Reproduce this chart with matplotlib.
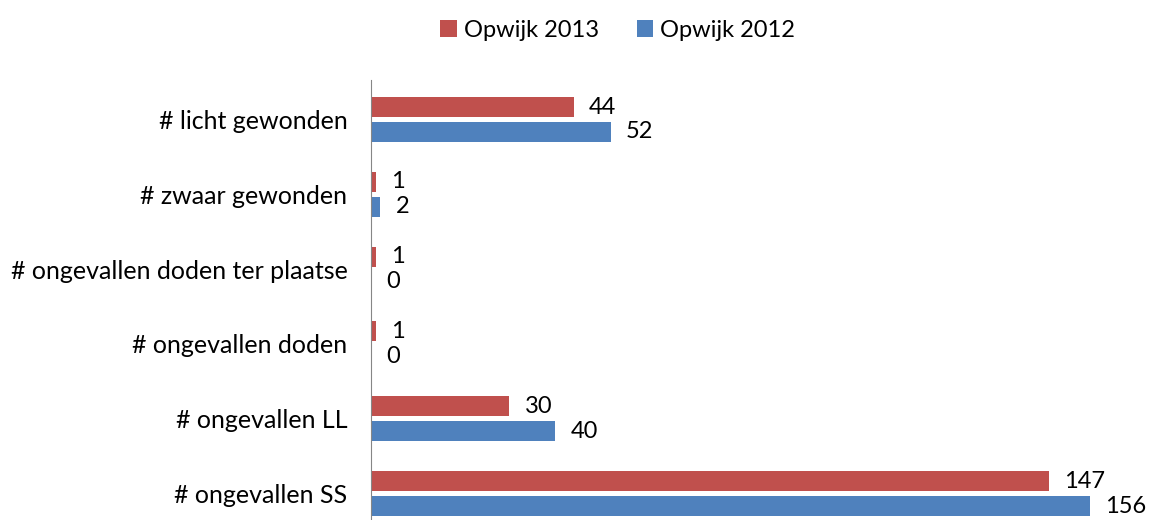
import matplotlib.pyplot as plt
import numpy as np

categories = ['# licht gewonden', '# zwaar gewonden', '# ongevallen doden ter plaatse',
              '# ongevallen doden', '# ongevallen LL', '# ongevallen SS']
opwijk_2013 = [44, 1, 1, 1, 30, 147]
opwijk_2012 = [52, 2, 0, 0, 40, 156]

plt.rcParams['font.family'] = ['Lato', 'DejaVu Sans']

fig = plt.figure(figsize=(11.51, 5.20), dpi=100)
ax = fig.add_axes([371 / 1151, 0, 780 / 1151, 440 / 520])

y = np.arange(len(categories))[::-1]
h = 0.267
b13 = ax.barh(y + 0.167, opwijk_2013, height=h, color='#C0504D', label='Opwijk 2013')
b12 = ax.barh(y - 0.167, opwijk_2012, height=h, color='#4F81BD', label='Opwijk 2012')
ax.bar_label(b13, padding=11, fontsize=17)
ax.bar_label(b12, padding=11, fontsize=17)

ax.set_xlim(0, 169.2)
ax.set_ylim(-0.354, 5.528)
ax.set_yticks(y)
ax.set_yticklabels(categories, fontsize=18)
ax.tick_params(axis='y', length=0, pad=17)
ax.set_xticks([])
for s in ['top', 'right', 'bottom']:
    ax.spines[s].set_visible(False)
ax.spines['left'].set_color('#868686')

fig.legend(handles=[b13, b12], loc='center', bbox_to_anchor=(0.5365, 0.942), ncol=2,
           frameon=False, fontsize=17, handlelength=0.7, handleheight=0.7,
           handletextpad=0.3, columnspacing=1.6)

fig.savefig('out.png', dpi=100)
